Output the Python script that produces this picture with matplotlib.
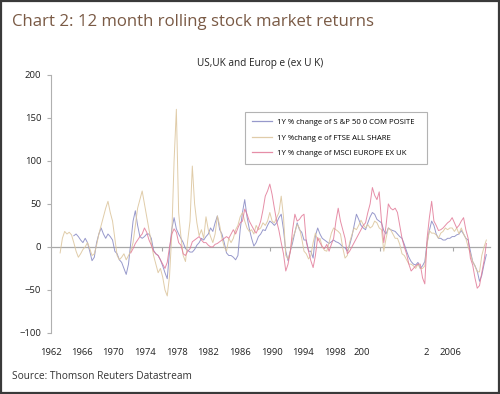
import matplotlib
matplotlib.use("Agg")
import matplotlib.pyplot as plt
import numpy as np
from matplotlib.patches import Rectangle

plt.rcParams["font.family"] = ["Open Sans", "DejaVu Sans"]

TITLE = "Chart 2: 12 month rolling stock market returns"
SUBTITLE = "US,UK and Europ e (ex U K)"
SOURCE = "Source: Thomson Reuters Datastream"

LABELS = [
    "1Y % change of S &P 50 0 COM POSITE",
    "1Y %chang e of FTSE ALL SHARE",
    "1Y % change of MSCI EUROPE EX UK",
]

# quarterly readings, % change over 12 months
sp_start = 1964.5
sp500 = [
    13, 15,
    12, 8, 5, 10,
    5, -5, -16, -12,
    5, 15, 22, 15,
    10, 15, 12, 8,
    -5, -8, -15, -18,
    -25, -32, -20, 5,
    30, 42, 25, 12,
    10, 12, 15, 15,
    10, -4, -8, -10,
    -15, -22, -30, -37,
    -5, 21, 34, 21,
    15, 10, 5, -2,
    -4, -6, -6, -3,
    2, 5, 10, 8,
    12, 15, 22, 18,
    28, 36, 20, 15,
    5, -7, -10, -10,
    -12, -15, -10, 20,
    40, 55, 35, 21,
    10, 1, 5, 12,
    15, 20, 19, 25,
    30, 28, 25, 28,
    34, 38, 20, -5,
    -16, -5, 5, 17,
    28, 20, 17, 8,
    8, -5, -5, -13,
    13, 22, 15, 10,
    8, 6, 4, 6,
    8, 6, 5, 3,
    0, -1, -5, 2,
    12, 25, 38, 32,
    25, 22, 20, 28,
    35, 40, 38, 32,
    30, 28, 19, 15,
    22, 20, 19, 18,
    15, 12, 10, 3,
    -5, -12, -17, -20,
    -21, -18, -25, -22,
    -17, 5, 19, 30,
    25, 15, 10, 10,
    8, 8, 10, 10,
    12, 12, 14, 15,
    19, 15, 10, 8,
    -5, -17, -22, -28,
    -40, -33, -20, -9,
]

ftse_start = 1963.0
ftse = [
    -7, 10, 18, 15,
    17, 14, 5, -5,
    -12, -8, -3, 0,
    5, -2, -10, -8,
    2, 15, 25, 35,
    45, 53, 40, 30,
    10, -10, -15, -12,
    -8, -15, -10, -5,
    5, 25, 45, 55,
    65, 50, 35, 20,
    5, -10, -20, -30,
    -25, -35, -50, -57,
    -34, 15, 100, 160,
    40, 12, -10, -17,
    8, 30, 94, 50,
    28, 13, 20, 10,
    35, 20, 12, 5,
    15, 36, 25, 10,
    0, -5, 10, 5,
    10, 20, 25, 35,
    40, 30, 22, 18,
    20, 15, 25, 20,
    22, 28, 25, 30,
    40, 30, 28, 34,
    40, 59, 35, -10,
    -14, -5, 10, 17,
    26, 22, 10, -5,
    -8, -14, -10, 5,
    16, 7, 10, 0,
    -4, -5, 5, 16,
    22, 20, 18, 15,
    -1, -13, -10, 5,
    14, 22, 20, 25,
    31, 26, 22, 26,
    22, 24, 30, 28,
    22, 20, -5, 10,
    22, 20, 15, 10,
    10, 3, -8, -10,
    -15, -20, -20, -22,
    -25, -20, -25, -25,
    -22, 3, 19, 16,
    16, 14, 10, 16,
    18, 22, 20, 22,
    22, 18, 22, 15,
    22, 15, 10, 0,
    -8, -17, -22, -29,
    -29, -10, 0, 8,
]

msci_start = 1970.75
msci = [
    -7,
    -2, 4, 8, 12,
    15, 22, 17, 8,
    2, -5, -8, -10,
    -15, -20, -25, -18,
    0, 15, 21, 17,
    5, 2, -8, -10,
    -5, -2, 6, 8,
    10, 12, 8, 5,
    5, 2, 0, 0,
    3, 4, 6, 8,
    10, 12, 10, 15,
    20, 15, 22, 28,
    30, 44, 38, 30,
    25, 20, 16, 22,
    30, 43, 59, 65,
    73, 61, 45, 30,
    19, 5, -8, -28,
    -20, -5, 20, 38,
    30, 32, 36, 38,
    6, -5, -16, -24,
    -10, 11, 5, 0,
    -2, 3, -5, 3,
    10, 30, 45, 30,
    20, 10, -8, -5,
    0, 5, 10, 15,
    20, 25, 28, 40,
    50, 69, 60, 55,
    64, 30, 5, 25,
    50, 45, 43, 45,
    40, 25, 10, 0,
    -8, -20, -28, -25,
    -22, -20, -20, -36,
    -43, 10, 34, 53,
    30, 25, 19, 20,
    22, 25, 28, 30,
    34, 28, 22, 25,
    30, 34, 20, 10,
    -13, -21, -36, -48,
    -45, -30, -16, 4,
]

year_labels = ["1962", "1966", "1970", "1974", "1978", "1982", "1986",
               "1990", "1994", "1998", "200", "2", "2006"]
year_label_pos = [1962.0, 1965.41, 1968.81, 1972.32, 1975.83, 1979.23, 1982.74,
                  1986.25, 1989.64, 1993.15, 1996.11, 2003.13, 2005.76]
zero_ticks = [1974.18, 1986.03, 1998.09, 2006.09]

colors = ["#8c8ec6", "#ddc7a0", "#e27a98"]


def quarters(start, values):
    return start + 0.25 * np.arange(len(values))


fig = plt.figure(figsize=(5.0, 3.94), dpi=100)
ax = fig.add_axes([0.102, 0.155, 0.878, 0.655])

ax.plot(quarters(sp_start, sp500), sp500, color=colors[0], lw=0.7, alpha=0.9, label=LABELS[0])
ax.plot(quarters(ftse_start, ftse), ftse, color=colors[1], lw=0.7, alpha=0.9, label=LABELS[1])
ax.plot(quarters(msci_start, msci), msci, color=colors[2], lw=0.7, alpha=0.85, label=LABELS[2])

ax.set_xlim(1962.0, 2010.15)
ax.set_ylim(-100, 200)
ax.set_yticks([-100, -50, 0, 50, 100, 150, 200])
ax.set_xticks(year_label_pos, year_labels)

for side in ("top", "right", "bottom"):
    ax.spines[side].set_visible(False)
ax.spines["left"].set_color("#b0b0b0")
ax.spines["left"].set_linewidth(0.8)
ax.tick_params(axis="y", length=3, color="#b0b0b0", labelsize=6.8, pad=4, labelcolor="#222222")
ax.tick_params(axis="x", length=0, labelsize=6.8, pad=11, labelcolor="#222222")

# zero line with its own tick marks
zero = ax.secondary_xaxis(1 / 3)
zero.spines["bottom"].set_color("#a8a8a8")
zero.spines["bottom"].set_linewidth(0.9)
zero.set_xticks(zero_ticks, [""] * len(zero_ticks))
zero.tick_params(length=3, color="#a8a8a8")

leg = ax.legend(loc="upper left", bbox_to_anchor=(0.442, 0.662, 0.414, 0.196),
                mode="expand", fontsize=5.6, frameon=True, fancybox=False,
                handlelength=2.6, handletextpad=0.6, labelspacing=1.05,
                borderpad=0.9, borderaxespad=0)
leg.get_frame().set_edgecolor("#a0a0a0")
leg.get_frame().set_linewidth(0.8)
for line in leg.get_lines():
    line.set_linewidth(0.9)

fig.text(0.024, 0.943, TITLE, fontsize=12.1, color="#7a5a45", va="center", ha="left")
fig.text(0.52, 0.84, SUBTITLE, fontsize=7.2, color="#222222", va="center", ha="center")
fig.text(0.024, 0.045, SOURCE, fontsize=7.3, color="#333333", va="center", ha="left")

fig.patches.append(Rectangle((0.002, 0.002), 0.996, 0.996, transform=fig.transFigure,
                             fill=False, edgecolor="#3a3a3a", linewidth=1.6))

fig.savefig("out.png", dpi=100)
